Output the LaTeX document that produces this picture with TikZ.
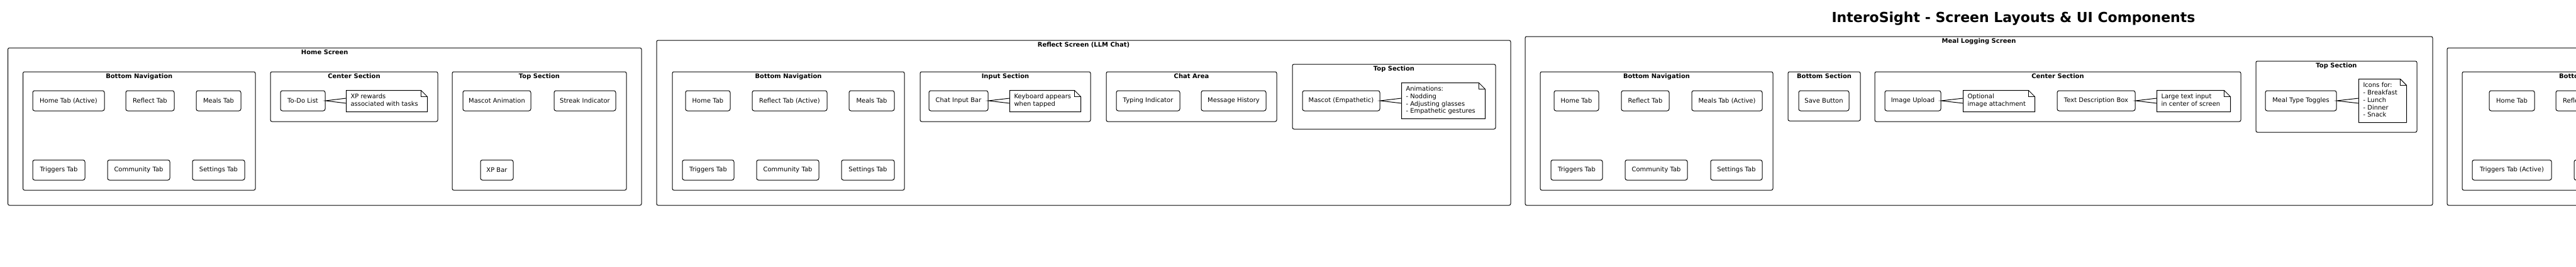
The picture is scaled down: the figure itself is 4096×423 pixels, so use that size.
\documentclass[tikz,border=0pt]{standalone}
\usepackage{fontspec}
\setmainfont{DejaVu Sans}
\usetikzlibrary{calc}
\tikzset{
  tabbox/.style={draw, fill=white, rounded corners=3pt, minimum height=32pt, inner sep=0pt, font=\fontsize{10}{12}\selectfont},
  grpbox/.style={draw, rounded corners=2.5pt, inner sep=0pt},
  ttlbox/.style={anchor=base, inner sep=0pt, font=\bfseries\fontsize{10}{12}\selectfont},
  notebox/.style={fill=white, inner sep=0pt},
  notetext/.style={anchor=west, inner sep=0pt, align=left, font=\fontsize{10}{11.7}\selectfont},
  wedgeline/.style={draw},
}
\newcommand\TB[5]{%
  \pgfmathsetmacro\tbw{#3-#2}\pgfmathsetmacro\tbx{(#2+#3)/2}\pgfmathsetmacro\tby{#4+16}%
  \node[tabbox, minimum width=\tbw pt] (#1) at (\tbx,\tby) {#5};}
\newcommand\FRM[5]{%
  \pgfmathsetmacro\gw{#4-#2}\pgfmathsetmacro\gh{#5-#3}%
  \pgfmathsetmacro\gx{(#2+#4)/2}\pgfmathsetmacro\gy{(#3+#5)/2}%
  \node[grpbox, minimum width=\gw pt, minimum height=\gh pt] (#1) at (\gx,\gy) {};}
\newcommand\GRP[6]{\FRM{#1}{#2}{#3}{#4}{#5}%
  \node[ttlbox] (#1-t) at ($(#1.north)+(0,11)$) {#6};}
\newcommand\NOTE[6]{%
  \pgfmathsetmacro\nw{#3-#2}\pgfmathsetmacro\nh{#5-#4}%
  \pgfmathsetmacro\nx{(#2+#3)/2}\pgfmathsetmacro\ny{(#4+#5)/2}%
  \node[notebox, minimum width=\nw pt, minimum height=\nh pt] (#1) at (\nx,\ny) {};
  \draw (#1.north west) -- ([xshift=-10pt]#1.north east) -- ([yshift=-10pt]#1.north east)
        -- (#1.south east) -- (#1.south west) -- cycle;
  \draw ([xshift=-10pt]#1.north east) |- ([yshift=-10pt]#1.north east);
  \node[notetext] (#1-t) at ($(#1.west)+(6.5,0)$) {#6};}
\newcommand\WEDGE[2]{%
  \draw[wedgeline] ($(#1.east -| #2.west)+(0,-4)$) -- (#1.east) -- ($(#1.east -| #2.west)+(0,4)$);}
\begin{document}
\begin{tikzpicture}[x=1pt,y=-1pt,line width=1pt]
\fill[white] (0,0) rectangle (4096,423);
\useasboundingbox (0,0) rectangle (4096,423);
\clip (0,0) rectangle (4096,423);

\node[anchor=base, inner sep=0pt, font=\bfseries\fontsize{22}{26}\selectfont] (title) at (3201.5,35) {InteroSight - Screen Layouts \& UI Components};

% ---------------- Home Screen
\GRP{home}{12.5}{76}{1020}{326}{Home Screen}
\GRP{bn1}{36.5}{114}{406}{302}{Bottom Navigation}
\TB{h1}{52}{166}{144}{Home Tab (Active)}
\TB{h2}{200}{277}{144}{Reflect Tab}
\TB{h3}{312}{383}{144}{Meals Tab}
\TB{h4}{52}{135}{254}{Triggers Tab}
\TB{h5}{171}{270}{254}{Community Tab}
\TB{h6}{306}{389}{254}{Settings Tab}
\GRP{cs1}{430}{114}{696}{193}{Center Section}
\TB{todo}{446}{517}{144}{To-Do List}
\NOTE{n1}{551}{679}{144}{177}{\strut XP rewards\\associated with tasks\strut}
\WEDGE{todo}{n1}
\GRP{ts1}{719}{114}{996}{302}{Top Section}
\TB{masc}{736}{844}{144}{Mascot Animation}
\TB{streak}{881}{979}{144}{Streak Indicator}
\TB{xp}{764}{816}{254}{XP Bar}

% ---------------- Reflect Screen
\GRP{refl}{1044}{64}{2402}{326}{Reflect Screen (LLM Chat)}
\GRP{bn2}{1069}{114}{1438}{302}{Bottom Navigation}
\TB{r1}{1090}{1161}{144}{Home Tab}
\TB{r2}{1196}{1315}{144}{Reflect Tab (Active)}
\TB{r3}{1350}{1422}{144}{Meals Tab}
\TB{r4}{1085}{1167}{254}{Triggers Tab}
\TB{r5}{1203}{1302}{254}{Community Tab}
\TB{r6}{1338}{1422}{254}{Settings Tab}
\GRP{inp}{1463}{114}{1734}{193}{Input Section}
\TB{chat}{1477}{1571}{144}{Chat Input Bar}
\NOTE{n2}{1606}{1718}{144}{177}{\strut Keyboard appears\\when tapped\strut}
\WEDGE{chat}{n2}
\GRP{ca}{1759}{114}{2030}{193}{Chat Area}
\TB{typ}{1775}{1876}{144}{Typing Indicator}
\TB{msg}{1910}{2013}{144}{Message History}
\GRP{ts2}{2055}{102}{2378}{205}{Top Section}
\TB{mascE}{2071}{2194}{144}{Mascot (Empathetic)}
\NOTE{n3}{2229}{2361}{132}{188}{\strut Animations:\\- Nodding\\- Adjusting glasses\\- Empathetic gestures\strut}
\WEDGE{mascE}{n3}

% ---------------- Meal Logging Screen
\GRP{meal}{2425}{58}{3868}{326}{Meal Logging Screen}
\GRP{bn3}{2449}{114}{2819}{302}{Bottom Navigation}
\TB{m1}{2471}{2542}{144}{Home Tab}
\TB{m2}{2578}{2654}{144}{Reflect Tab}
\TB{m3}{2690}{2802}{144}{Meals Tab (Active)}
\TB{m4}{2466}{2548}{254}{Triggers Tab}
\TB{m5}{2584}{2683}{254}{Community Tab}
\TB{m6}{2720}{2802}{254}{Settings Tab}
\GRP{bs3}{2843}{114}{2958}{192}{Bottom Section}
\TB{save}{2860}{2940}{144}{Save Button}
\GRP{cs3}{2981}{114}{3563}{193}{Center Section}
\TB{img}{2997}{3086}{144}{Image Upload}
\NOTE{n4}{3122}{3235}{144}{177}{\strut Optional\\image attachment\strut}
\WEDGE{img}{n4}
\TB{txt}{3271}{3395}{144}{Text Description Box}
\NOTE{n5}{3430}{3546}{144}{177}{\strut Large text input\\in center of screen\strut}
\WEDGE{txt}{n5}
\GRP{ts3}{3587}{97}{3843}{210}{Top Section}
\TB{mtt}{3602}{3715}{144}{Meal Type Toggles}
\NOTE{n6}{3751}{3826}{126}{194}{\strut Icons for:\\- Breakfast\\- Lunch\\- Dinner\\- Snack\strut}
\WEDGE{mtt}{n6}

% ---------------- Triggers Screen (cut off at the right edge)
\FRM{trig}{3891}{76}{5300}{326}
\GRP{bn4}{3915}{114}{4329}{302}{Bottom Navigation}
\TB{t1}{3958}{4030}{144}{Home Tab}
\TB{t2}{4064}{4141}{144}{Reflect Tab}
\TB{t4}{3931}{4057}{254}{Triggers Tab (Active)}
\TB{t5}{4093}{4192}{254}{Community Tab}
\end{tikzpicture}
\end{document}
